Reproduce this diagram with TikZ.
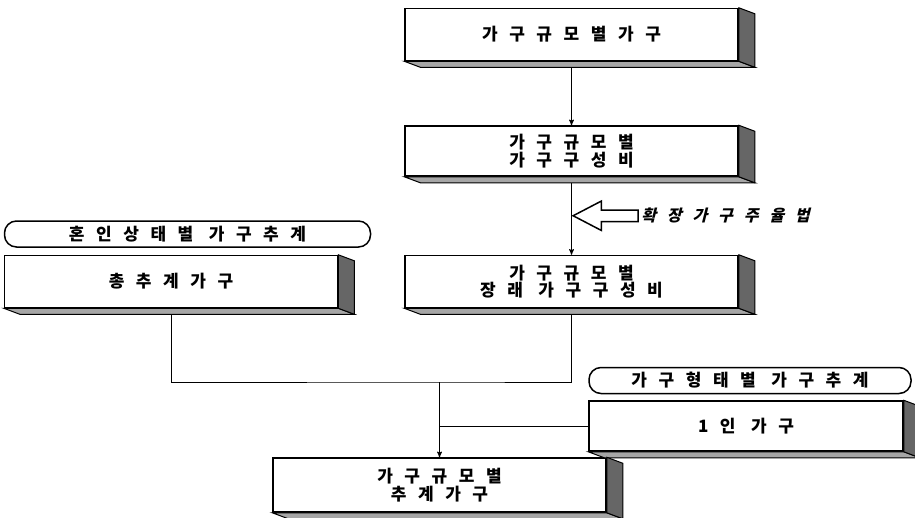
\documentclass[tikz,border=0pt]{standalone}
\usepackage{fontspec}
\setmainfont{Noto Sans CJK KR}[LetterSpace=68]
\newfontfamily\krslant{Noto Sans CJK KR}[FakeSlant=0.25,LetterSpace=68]
\usetikzlibrary{shapes,calc,positioning,arrows}

\newcommand{\boxdepth}[1]{%
  \filldraw[line width=1pt, fill=black!35] (#1.south west) -- ++(16,6) -- ($(#1.south east)+(16,6)$) -- (#1.south east) -- cycle;
  \filldraw[line width=1pt, fill=black!60] (#1.north east) -- ++(16,6) -- ($(#1.south east)+(16,6)$) -- (#1.south east) -- cycle;
}

\begin{document}
\begin{tikzpicture}[>=stealth', line width=1pt, x=1pt, y=-1pt,
   stage/.style={rectangle, draw, line width=1.5pt, fill=white, minimum width=333pt,
     minimum height=52pt, inner sep=0pt, align=center, font=\bfseries\fontsize{17}{17.5}\selectfont},
   tag/.style={rectangle, draw, rounded corners=12pt, line width=1.5pt, inner sep=0pt,
     minimum height=26pt, font=\bfseries\fontsize{17}{17.5}\selectfont},
   widearrow/.style={single arrow, draw, line width=1.5pt, shape border rotate=180, inner xsep=0pt,
     inner ysep=5pt, minimum height=65pt, minimum width=28pt, single arrow head extend=9pt,
     single arrow tip angle=55}]

  \useasboundingbox (0,0) rectangle (915,517);

  \node [stage] (total) at (571.5,34.5) {가구규모별가구};
  \node [stage, below=64pt of total, minimum height=50pt] (ratio) {가구규모별\\가구구성비};
  \node [stage, below=78pt of ratio] (future) {가구규모별\\장래 가구구성비};
  \node [stage, left=66pt of future] (proj) {총추계가구};
  \node [tag, minimum width=366pt, above=7pt of proj.north west, anchor=south west] (marital) {혼인상태별 가구추계};
  \node [stage, minimum width=314pt, minimum height=50pt] (single) at (746,426) {1인 가구};
  \node [tag, minimum width=322pt, above=6pt of single.north west, anchor=south west] (kind) {가구형태별 가구추계};
  \node [stage, minimum height=54pt] (final) at (439.5,485) {가구규모별\\추계가구};

  \node [widearrow, anchor=tip] (expand) at ($(ratio.south)!0.5!(future.north)$) {};
  \node [anchor=west, inner sep=2pt, font=\krslant\bfseries\fontsize{16}{17.5}\selectfont] (rule) at (expand.tail) {확장가구주율법};

  \coordinate (merge) at (final.north |- 0,382);
  \draw [->] (total) -- (ratio);
  \draw [->] (ratio) -- (future);
  \draw (proj.south) |- (merge) -| (future.south);
  \draw [->] (merge) -- (final.north);
  \draw (single.west) -- (single.west -| final.north);

  \foreach \n in {total,ratio,future,proj,single,final} {\boxdepth{\n}}
\end{tikzpicture}
\end{document}
